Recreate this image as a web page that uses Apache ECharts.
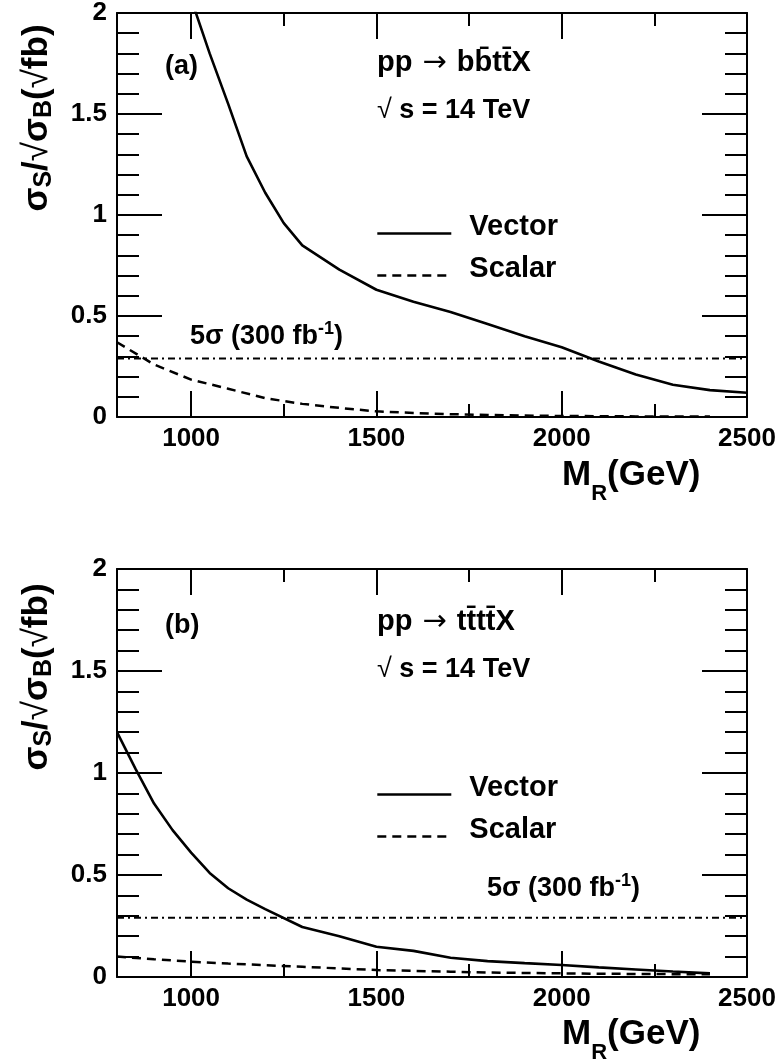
<!DOCTYPE html>
<html>
<head>
<meta charset="utf-8">
<script src="https://cdn.jsdelivr.net/npm/echarts@6/dist/echarts.min.js"></script>
<style>
html,body{margin:0;padding:0;background:#fff;}
#chart{width:780px;height:1063px;}
</style>
</head>
<body>
<div id="chart"></div>
<script>
// ---------- data ----------
const xRange = [800, 2500];
const yRange = [0, 2];
const xMajorTicks = [1000, 1500, 2000, 2500];
const xMinorTicks = [1250, 1750, 2250];
const threshold5sigma = 0.29;

// panel (a): pp -> b bbar t tbar X
const massVectorA = [1000, 1050, 1100, 1150, 1200, 1250, 1300, 1400, 1500, 1600, 1700, 1800, 1900, 2000, 2100, 2200, 2300, 2400, 2500];
const vectorA     = [2.07, 1.80, 1.55, 1.29, 1.11, 0.96, 0.85, 0.73, 0.63, 0.57, 0.52, 0.46, 0.40, 0.345, 0.275, 0.21, 0.16, 0.133, 0.12];
const massScalarA = [800, 900, 1000, 1100, 1200, 1300, 1400, 1500, 1600, 1700, 1800, 1900, 2000, 2100, 2200, 2300, 2400];
const scalarA     = [0.37, 0.26, 0.185, 0.14, 0.093, 0.065, 0.045, 0.028, 0.02, 0.014, 0.01, 0.007, 0.005, 0.004, 0.003, 0.002, 0.002];

// panel (b): pp -> t tbar t tbar X
const massVectorB = [800, 850, 900, 950, 1000, 1050, 1100, 1150, 1200, 1300, 1400, 1500, 1600, 1700, 1800, 1900, 2000, 2100, 2200, 2300, 2400];
const vectorB     = [1.20, 1.02, 0.85, 0.72, 0.61, 0.51, 0.435, 0.379, 0.333, 0.245, 0.20, 0.148, 0.128, 0.094, 0.078, 0.068, 0.059, 0.047, 0.037, 0.027, 0.018];
const massScalarB = [800, 900, 1000, 1100, 1200, 1300, 1400, 1500, 1600, 1700, 1800, 1900, 2000, 2100, 2200, 2300, 2400];
const scalarB     = [0.10, 0.087, 0.075, 0.066, 0.058, 0.05, 0.042, 0.034, 0.03, 0.026, 0.022, 0.02, 0.018, 0.016, 0.015, 0.014, 0.013];

// ---------- helpers ----------
const F = '"Liberation Sans", Arial, Helvetica, sans-serif';
const BLACK = '#000';
const zip = (xs, ys) => xs.map((x, i) => [x, ys[i]]);
const tickStyle = { color: BLACK, width: 2 };

function xAxesFor(g) {
  const base = { gridIndex: g, type: 'value', min: xRange[0], max: xRange[1], splitLine: { show: false } };
  return [
    Object.assign({}, base, {
      position: 'bottom',
      axisLine: { show: true, onZero: false, lineStyle: { color: BLACK, width: 2 } },
      axisTick: { show: true, inside: true, length: 26, lineStyle: tickStyle, customValues: xMajorTicks },
      axisLabel: { show: true, customValues: xMajorTicks, margin: 9, color: BLACK, fontSize: 26, fontWeight: 'bold', fontFamily: F,
        formatter: v => String(v) }
    }),
    Object.assign({}, base, {
      position: 'bottom',
      axisLine: { show: false, onZero: false },
      axisTick: { show: true, inside: true, length: 13, lineStyle: tickStyle, customValues: xMinorTicks },
      axisLabel: { show: false }
    }),
    Object.assign({}, base, {
      position: 'top',
      axisLine: { show: true, onZero: false, lineStyle: { color: BLACK, width: 2 } },
      axisTick: { show: true, inside: true, length: 26, lineStyle: tickStyle, customValues: xMajorTicks },
      axisLabel: { show: false }
    }),
    Object.assign({}, base, {
      position: 'top',
      axisLine: { show: false, onZero: false },
      axisTick: { show: true, inside: true, length: 13, lineStyle: tickStyle, customValues: xMinorTicks },
      axisLabel: { show: false }
    })
  ];
}
function yAxesFor(g) {
  const base = {
    gridIndex: g, type: 'value', min: yRange[0], max: yRange[1], interval: 0.5,
    splitLine: { show: false }, minorSplitLine: { show: false },
    axisLine: { show: true, onZero: false, lineStyle: { color: BLACK, width: 2 } },
    axisTick: { show: true, inside: true, length: 45, lineStyle: tickStyle },
    minorTick: { show: true, splitNumber: 5, length: 22, lineStyle: tickStyle }
  };
  return [
    Object.assign({}, base, { position: 'left',
      axisLabel: { show: true, margin: 10, color: BLACK, fontSize: 26, fontWeight: 'bold', fontFamily: F } }),
    Object.assign({}, base, { position: 'right', axisLabel: { show: false } })
  ];
}
function seriesFor(xi, yi, vec, sca) {
  return [
    { name: 'Vector', type: 'line', xAxisIndex: xi, yAxisIndex: yi, data: vec, symbol: 'none', clip: true,
      itemStyle: { color: BLACK }, lineStyle: { color: BLACK, width: 2.6, type: 'solid' } },
    { name: 'Scalar', type: 'line', xAxisIndex: xi, yAxisIndex: yi, data: sca, symbol: 'none', clip: true,
      itemStyle: { color: BLACK }, lineStyle: { color: BLACK, width: 2.5, type: [9, 6] } },
    { name: '5sigma', type: 'line', xAxisIndex: xi, yAxisIndex: yi, symbol: 'none', clip: true,
      data: xRange.map(x => [x, threshold5sigma]),
      itemStyle: { color: BLACK }, lineStyle: { color: BLACK, width: 2, type: [7, 4, 2, 4] } }
  ];
}
function legendFor(top) {
  return {
    orient: 'vertical', left: 371, top: top, itemWidth: 74, itemHeight: 14, itemGap: 13,
    selectedMode: false, data: ['Vector', 'Scalar'],
    itemStyle: { opacity: 0 },
    lineStyle: { width: 2.6 },
    formatter: '{t|{name}}',
    textStyle: { color: BLACK, fontSize: 29, fontWeight: 'bold', fontFamily: F,
      rich: { t: { color: BLACK, fontSize: 29, fontWeight: 'bold', fontFamily: F, padding: [0, 0, 14, 13] } } }
  };
}
function txt(x, y, text, size, extra) {
  return {
    type: 'text', x: x, y: y, silent: true,
    style: Object.assign({ text: text, fill: BLACK, fontSize: size, fontWeight: 'bold', fontFamily: F,
      align: 'left', verticalAlign: 'middle' }, extra || {})
  };
}
function panelTexts(dy, label, process, sigmaX, sigmaY) {
  return [
    txt(165, 67 + dy, label, 27),
    txt(377, 63 + dy, process, 29, { rich: { ar: { fontSize: 29, fontWeight: 'normal', fontFamily: '"DejaVu Sans"', fill: BLACK, padding: [0, 2, 0, 2] } } }),
    txt(377, 111 + dy, '{r|√} s = 14 TeV', 27, { rich: { r: { fontSize: 27, fontWeight: 'normal', fontFamily: F, fill: BLACK } } }),
    txt(sigmaX, sigmaY, '5σ (300 fb{sup|-1})', 27, { rich: { sup: { fontSize: 18, fontWeight: 'bold', fontFamily: F, fill: BLACK, padding: [0, 0, 16, 0] } } }),
    txt(562, 475 + dy, 'M{sub|R}(GeV)', 35, { rich: { sub: { fontSize: 22, fontWeight: 'bold', fontFamily: F, fill: BLACK, padding: [38, 0, 0, 0] } } }),
    Object.assign(txt(37, 118 + dy, 'σ{sub|S}/{r|√}σ{sub|B}({r|√}fb)', 35, {
      align: 'center',
      rich: {
        sub: { fontSize: 25, fontWeight: 'bold', fontFamily: F, fill: BLACK, padding: [14, 0, 0, 0] },
        r: { fontSize: 35, fontWeight: 'normal', fontFamily: F, fill: BLACK }
      }
    }), { rotation: Math.PI / 2 })
  ];
}

const chart = echarts.init(document.getElementById('chart'), null, { renderer: 'canvas' });
chart.setOption({
  animation: false,
  backgroundColor: '#fff',
  grid: [
    { left: 117, top: 10, width: 630, height: 407 },
    { left: 117, top: 569, width: 630, height: 408 }
  ],
  xAxis: xAxesFor(0).concat(xAxesFor(1)),
  yAxis: yAxesFor(0).concat(yAxesFor(1)),
  legend: [legendFor(207), legendFor(768)],
  series: seriesFor(0, 0, zip(massVectorA, vectorA), zip(massScalarA, scalarA))
    .concat(seriesFor(4, 2, zip(massVectorB, vectorB), zip(massScalarB, scalarB))),
  graphic: panelTexts(0, '(a)', 'pp {ar|→} bb\u0304tt\u0304X', 190, 337)
    .concat(panelTexts(559, '(b)', 'pp {ar|→} tt\u0304tt\u0304X', 487, 889))
});
</script>
</body>
</html>
